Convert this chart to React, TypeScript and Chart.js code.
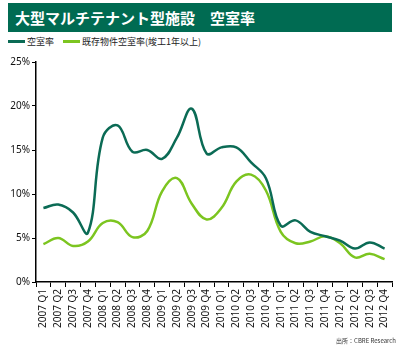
import React, { useEffect, useRef } from "react";
import { Chart, registerables } from "chart.js";

Chart.register(...registerables);

const years = ["2007", "2008", "2009", "2010", "2011", "2012"];
const quarters = ["Q1", "Q2", "Q3", "Q4"];
const categories: string[] = years.flatMap((y) => quarters.map((q) => `${y} ${q}`));

const vacancyRate = [
  8.4, 8.8, 7.9, 5.6,
  16.4, 17.8, 14.8, 15.0,
  14.0, 16.4, 19.7, 14.6,
  15.3, 15.3, 13.6, 11.8,
  6.4, 7.0, 5.7, 5.2,
  4.7, 3.8, 4.5, 3.8,
];
const existingVacancyRate = [
  4.3, 5.0, 4.1, 4.6,
  6.7, 6.8, 5.1, 5.8,
  10.3, 11.8, 8.9, 7.1,
  8.4, 11.4, 12.2, 10.4,
  5.7, 4.4, 4.6, 5.2,
  4.4, 2.8, 3.2, 2.6,
];
const yTicks = [0, 5, 10, 15, 20, 25];

const title = "大型マルチテナント型施設\u3000空室率";
const seriesNames = ["空室率", "既存物件空室率(竣工1年以上)"];
const sourceText = "出所：CBRE Research";

const DARK = "#0b6b55";
const LIGHT = "#7cc520";
const TITLE_BG = "#006b52";

export default function App() {
  const canvasRef = useRef<HTMLCanvasElement | null>(null);

  useEffect(() => {
    if (!canvasRef.current) return;
    const chart = new Chart(canvasRef.current, {
      type: "line",
      data: {
        labels: categories,
        datasets: [
          {
            label: seriesNames[0],
            data: vacancyRate,
            borderColor: DARK,
            borderWidth: 2.5,
            pointRadius: 0,
            tension: 0.4,
            fill: false,
          },
          {
            label: seriesNames[1],
            data: existingVacancyRate,
            borderColor: LIGHT,
            borderWidth: 2.5,
            pointRadius: 0,
            tension: 0.4,
            fill: false,
          },
        ],
      },
      options: {
        animation: false,
        responsive: false,
        maintainAspectRatio: false,
        layout: { padding: { top: 12, right: 8, left: 0, bottom: 0 } },
        plugins: {
          legend: { display: false },
          tooltip: { enabled: false },
          title: { display: false },
        },
        scales: {
          x: {
            type: "category",
            offset: true,
            grid: {
              display: true,
              offset: true,
              drawOnChartArea: false,
              drawTicks: true,
              tickLength: 5,
              color: "#000",
              lineWidth: 1,
            },
            border: { display: true, color: "#000", width: 1.5 },
            ticks: {
              autoSkip: false,
              minRotation: 90,
              maxRotation: 90,
              color: "#111",
              padding: 2,
              font: { family: "Noto Sans", size: 10 },
            },
            afterFit: (scale: any) => {
              scale.height = 58;
            },
          },
          y: {
            min: 0,
            max: 25,
            afterBuildTicks: (scale: any) => {
              scale.ticks = yTicks.map((v) => ({ value: v }));
            },
            grid: {
              display: true,
              drawOnChartArea: false,
              drawTicks: true,
              tickLength: 4,
              color: "#000",
            },
            border: { display: true, color: "#000", width: 1.5 },
            ticks: {
              color: "#111",
              padding: 2,
              font: { family: "Noto Sans", size: 10 },
              callback: (v: any) => `${v}%`,
            },
            afterFit: (scale: any) => {
              scale.width = 36;
            },
          },
        },
      },
    });
    return () => chart.destroy();
  }, []);

  return (
    <div
      style={{
        position: "absolute",
        left: 0,
        top: 0,
        width: 400,
        height: 348,
        background: "#fff",
        overflow: "hidden",
        fontFamily: "'Noto Sans CJK JP', 'Noto Sans', sans-serif",
      }}
    >
      <div
        style={{
          position: "absolute",
          left: 8,
          top: 3,
          width: 384,
          height: 29,
          background: TITLE_BG,
          color: "#fff",
          fontWeight: 700,
          fontSize: 15,
          lineHeight: "29px",
          paddingLeft: 7,
          boxSizing: "border-box",
          whiteSpace: "nowrap",
        }}
      >
        {title}
      </div>
      <div
        style={{
          position: "absolute",
          left: 8,
          top: 34,
          height: 14,
          display: "flex",
          alignItems: "center",
          fontSize: 9,
          color: "#222",
          whiteSpace: "nowrap",
        }}
      >
        <span style={{ display: "inline-block", width: 17, height: 3, background: DARK, marginRight: 2 }} />
        <span style={{ marginRight: 9 }}>{seriesNames[0]}</span>
        <span style={{ display: "inline-block", width: 17, height: 3, background: LIGHT, marginRight: 2 }} />
        <span>{seriesNames[1]}</span>
      </div>
      <canvas
        ref={canvasRef}
        width={400}
        height={290}
        style={{ position: "absolute", left: 0, top: 50, width: 400, height: 290 }}
      />
      <div
        style={{
          position: "absolute",
          right: 4,
          top: 336,
          fontSize: 6,
          color: "#333",
          whiteSpace: "nowrap",
        }}
      >
        {sourceText}
      </div>
    </div>
  );
}
